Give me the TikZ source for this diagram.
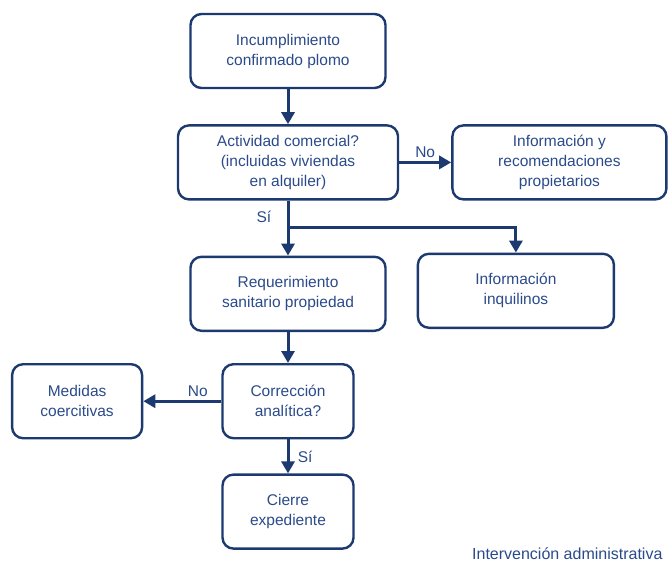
\documentclass[tikz,border=0pt]{standalone}
\usepackage{fontspec}
\setmainfont{Liberation Sans}
\usetikzlibrary{arrows.meta,positioning}
\definecolor{azul}{RGB}{28,58,112}
\definecolor{azultexto}{RGB}{42,74,138}
\tikzstyle{caja} = [rectangle, draw=azul, line width=2.4pt, rounded corners=11pt,
    text=azultexto, align=center, minimum height=74pt, inner sep=2pt,
    font=\fontsize{15.5}{20}\selectfont]
\tikzstyle{etiq} = [text=azultexto, font=\fontsize{15.5}{20}\selectfont]

\begin{document}
\begin{tikzpicture}[->,>={Triangle[length=12pt,width=13pt]},x=1pt,y=1pt,
                    node distance=35pt,
                    every edge/.style={draw=azul,line width=3pt}]
  \useasboundingbox (0,0) rectangle (668,-564);

  \node[caja,minimum width=195pt] (inc) at (288,-51)   {Incumplimiento\\confirmado plomo};
  \node[caja,minimum width=220pt] (act) [below=35pt of inc] {Actividad comercial?\\(incluidas viviendas\\en alquiler)};
  \node[caja,minimum width=214pt] (info) [right=52pt of act] {Información y\\recomendaciones\\propietarios};
  \node[caja,minimum width=195pt] (req) [below=55pt of act] {Requerimiento\\sanitario propiedad};
  \node[caja,minimum width=196pt] (inq) [right=30pt of req,yshift=3pt] {Información\\inquilinos};
  \node[caja,minimum width=131pt] (corr) [below=31pt of req] {Corrección\\analítica?};
  \node[caja,minimum width=130pt] (med) [left=78pt of corr] {Medidas\\coercitivas};
  \node[caja,minimum width=131pt] (cie) [below=34pt of corr] {Cierre\\expediente};
  \coordinate[below=27pt of act.south] (split);

  \node[etiq,anchor=east,font=\fontsize{16}{20}\selectfont] (pie) at (666,-554) {Intervención administrativa};

  \path (inc)  edge (act)
        (act)  edge node[etiq,above] {No} (info)
               edge node[etiq,left=12pt,pos=0.3] {Sí} (req)
        (split) edge[-] ([xshift=-1.5pt]split -| inq.north)
        ([yshift=1.5pt]split -| inq.north) edge (inq.north)
        (req)  edge (corr)
        (corr) edge node[etiq,above,pos=0.3] {No} (med)
               edge node[etiq,right=5pt] {Sí} (cie);
\end{tikzpicture}
\end{document}
